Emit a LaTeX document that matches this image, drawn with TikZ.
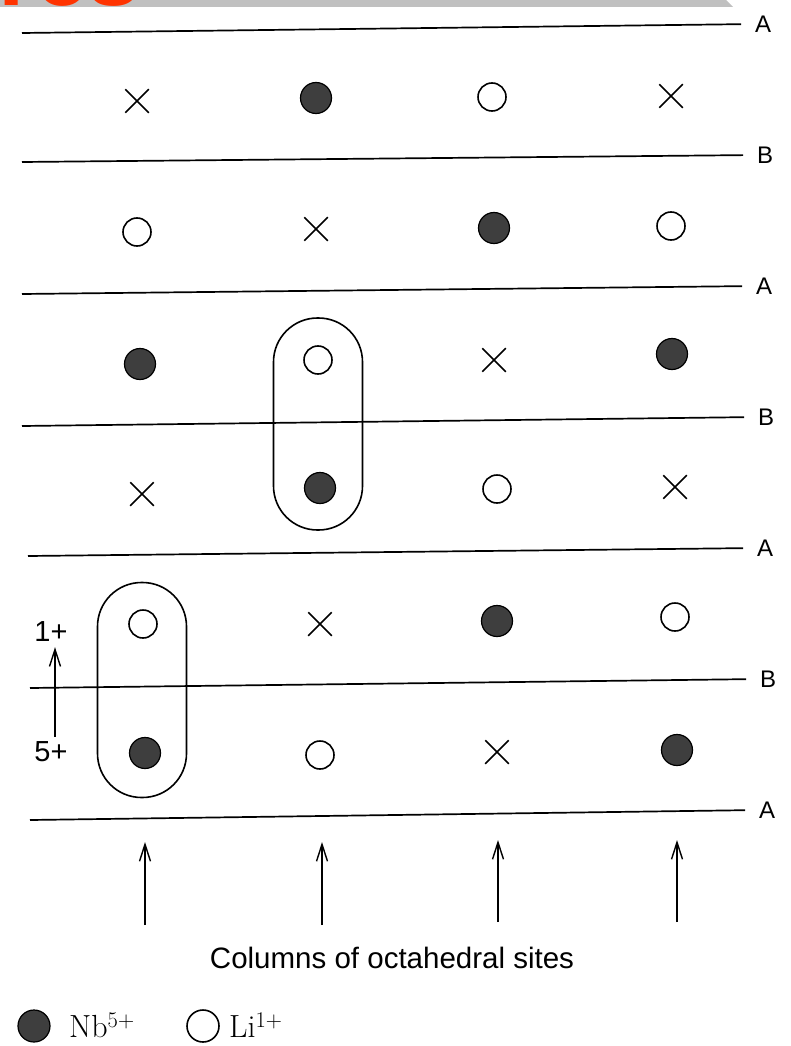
\documentclass[tikz,border=0pt]{standalone}
\usepackage{fontspec}
\setsansfont{Liberation Sans}
\usetikzlibrary{arrows.meta, shapes.misc, positioning}
\definecolor{dotgrey}{HTML}{3E3E3E}
\definecolor{bargrey}{HTML}{C0C0C0}
\definecolor{titleorange}{HTML}{FF3300}

\begin{document}
\begin{tikzpicture}[
    x=1pt, y=-1pt,
    nb/.style={circle, draw=black, fill=dotgrey, line width=1.2pt, minimum size=31pt, inner sep=0pt},
    li/.style={circle, draw=black, line width=1.6pt, minimum size=28pt, inner sep=0pt},
    vac/.style={cross out, draw=black, line width=1.5pt, minimum size=22pt, inner sep=0pt},
    pair/.style={rectangle, draw=black, line width=1.6pt, rounded corners=44pt, minimum width=89pt, minimum height=212pt, inner sep=0pt},
    layer/.style={line width=1.7pt, shorten >=14pt},
    lab/.style={font=\sffamily\fontsize{24}{28}\selectfont, inner sep=0pt, anchor=west},
    charge/.style={font=\sffamily\fontsize{29}{33}\selectfont, inner sep=0pt},
    key/.style={font=\fontsize{32}{36}\selectfont, inner sep=0pt, anchor=base west},
    arrow/.style={-{Straight Barb[length=17pt, width=11pt, line width=1.4pt]}, line width=1.6pt}
]
\useasboundingbox (0,0) rectangle (791,1046);

% Cut-off slide header
\fill[bargrey] (0,0) -- (726,0) -- (733,7) -- (0,7) -- cycle;
\begin{scope}
  \clip (0,0) rectangle (160,7);
  \node[font=\sffamily\bfseries\fontsize{95}{95}\selectfont, text=titleorange, anchor=base east, inner sep=0pt] (title) at (141,6) {res};
\end{scope}

% Close-packed oxygen layers
\coordinate (a1) at (22,33);
\coordinate (b1) at (22,162);
\coordinate (a2) at (22,294);
\coordinate (b2) at (22,426);
\coordinate (a3) at (28,556);
\coordinate (b3) at (30,688);
\coordinate (a4) at (30,820);

\node[lab] (la1) at (755,24) {A};
\node[lab] (lb1) at (757,155) {B};
\node[lab] (la2) at (756,286) {A};
\node[lab] (lb2) at (758,417) {B};
\node[lab] (la3) at (757,548) {A};
\node[lab] (lb3) at (760,679) {B};
\node[lab] (la4) at (759,810) {A};

\draw[layer] (a1) -- (la1.west);
\draw[layer] (b1) -- (lb1.west);
\draw[layer] (a2) -- (la2.west);
\draw[layer] (b2) -- (lb2.west);
\draw[layer] (a3) -- (la3.west);
\draw[layer] (b3) -- (lb3.west);
\draw[layer] (a4) -- (la4.west);

% Octahedral sites, row by row
\node[vac] (r1c1) at (137,101) {};
\node[nb]  (r1c2) at (316,98) {};
\node[li]  (r1c3) at (492,97) {};
\node[vac] (r1c4) at (671,96) {};

\node[li]  (r2c1) at (137,232) {};
\node[vac] (r2c2) at (316,229) {};
\node[nb]  (r2c3) at (494,228) {};
\node[li]  (r2c4) at (671,226) {};

\node[nb]  (r3c1) at (140,364) {};
\node[li]  (r3c2) at (318,360) {};
\node[vac] (r3c3) at (494,360) {};
\node[nb]  (r3c4) at (672,354) {};

\node[vac] (r4c1) at (142,494) {};
\node[nb]  (r4c2) at (320,488) {};
\node[li]  (r4c3) at (497,489) {};
\node[vac] (r4c4) at (675,487) {};

\node[li]  (r5c1) at (143,624) {};
\node[vac] (r5c2) at (320,624) {};
\node[nb]  (r5c3) at (497,621) {};
\node[li]  (r5c4) at (675,617) {};

\node[nb]  (r6c1) at (145,753) {};
\node[li]  (r6c2) at (320,755) {};
\node[vac] (r6c3) at (497,752) {};
\node[nb]  (r6c4) at (677,750) {};

% Cation pairs
\node[pair] (pair1) at (318,424) {};
\node[pair, minimum height=215pt] (pair2) at (142,690) {};

% Charge direction
\node[charge] (one) at (51,632) {1+};
\node[charge] (five) at (51,752) {5+};
\draw[arrow, shorten <=5pt, shorten >=5pt] ([xshift=4pt]five.north) -- ([xshift=4pt]one.south);

% Columns
\coordinate (c1b) at (145,925);
\coordinate (c1t) at (145,842);
\coordinate (c2b) at (322,925);
\coordinate (c2t) at (322,842);
\coordinate (c3b) at (498,922);
\coordinate (c3t) at (498,840);
\coordinate (c4b) at (677,922);
\coordinate (c4t) at (677,840);
\draw[arrow] (c1b) -- (c1t);
\draw[arrow] (c2b) -- (c2t);
\draw[arrow] (c3b) -- (c3t);
\draw[arrow] (c4b) -- (c4t);

\node[font=\sffamily\fontsize{29.5}{33}\selectfont, inner sep=0pt] (cols) at (392,958) {Columns of octahedral sites};

% Key
\node[nb, minimum size=32pt] (keynb) at (34,1026) {};
\node[key] (keynbtxt) at (69,1037) {Nb\textsuperscript{5+}};
\node[li, minimum size=32pt] (keyli) at (203,1026) {};
\node[key] (keylitxt) at (229,1037) {Li\textsuperscript{1+}};

\end{tikzpicture}
\end{document}
